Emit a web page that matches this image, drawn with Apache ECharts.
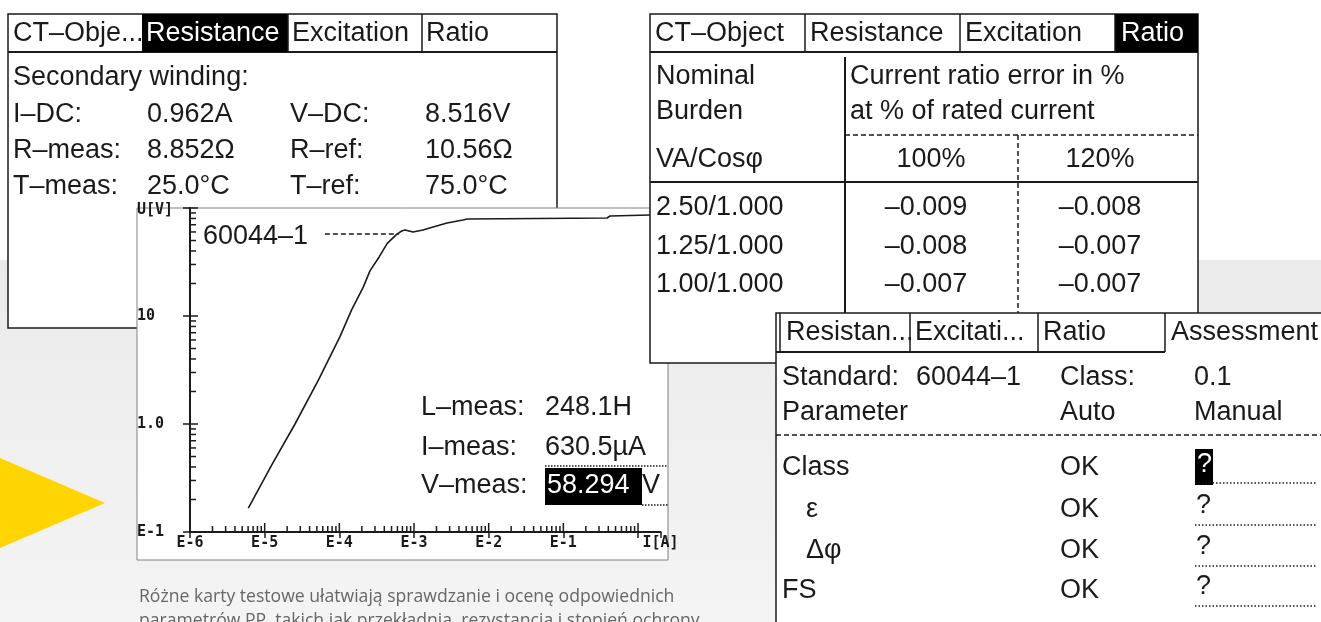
<!DOCTYPE html>
<html>
<head>
<meta charset="utf-8">
<title>CT Analyzer - excitation curve</title>
<script src="https://cdn.jsdelivr.net/npm/echarts@6/dist/echarts.min.js"></script>
<style>
html, body { margin: 0; padding: 0; background: #fff; }
#main { width: 1321px; height: 622px; }
</style>
</head>
<body>
<div id="main"></div>
<script>
// excitation curve: current in A, voltage in V
var curveCurrent = [6.04e-6, 1.24e-5, 2.55e-5, 5.24e-5, 1.02e-4, 1.46e-4, 2.09e-4, 2.58e-4, 3.43e-4, 4.38e-4,
                    5.86e-4, 6.84e-4, 7.57e-4, 9.7e-4, 1.32e-3, 1.80e-3, 2.77e-3, 4.53e-3, 5.13e-3, 0.385, 0.422, 1.45];
var curveVoltage = [0.166, 0.417, 1.0, 2.55, 6.44, 11.4, 18.5, 26.3, 35.4, 47.1,
                    57.0, 61.2, 62.5, 60.0, 62.5, 66.6, 72.6, 77.4, 79.1, 80.8, 84.3, 86.1];

// measured knee point (readout) and where the standard label ends
var iMeas = 630.5e-6;
var vMeas = 58.294;
var kneeLabelEnd = 6.4e-5;

// axis decades and minor steps
var xDecades = [1e-6, 1e-5, 1e-4, 1e-3, 1e-2, 1e-1, 1];
var yDecades = [0.1, 1, 10, 100];
var minorSteps = [2, 3, 4, 5, 6, 7, 8, 9];

// resistance tab
var resRows = [
    ['I–DC:', '0.962A', 'V–DC:', '8.516V'],
    ['R–meas:', '8.852Ω', 'R–ref:', '10.56Ω'],
    ['T–meas:', '25.0°C', 'T–ref:', '75.0°C']
];

// ratio tab
var burdens = ['2.50/1.000', '1.25/1.000', '1.00/1.000'];
var err100 = [-0.009, -0.008, -0.007];
var err120 = [-0.008, -0.007, -0.007];

// assessment tab
var assessParams = ['Class', 'ε', 'Δφ', 'FS'];
var assessAuto = ['OK', 'OK', 'OK', 'OK'];

var INK = '#1a1a1a';
var FONT = '"Liberation Sans", Arial, sans-serif';
var MONO = '"DejaVu Sans Mono", monospace';

var g = [];
function box(x, y, w, h, z, fill, stroke, lw) {
    g.push({ type: 'rect', z: z, silent: true, shape: { x: x, y: y, width: w, height: h },
        style: { fill: fill || '#fff', stroke: stroke || null, lineWidth: lw || 0 } });
}
function seg(x1, y1, x2, y2, z, dash, lw, color) {
    g.push({ type: 'line', z: z, silent: true, shape: { x1: x1, y1: y1, x2: x2, y2: y2 },
        style: { stroke: color || INK, lineWidth: lw || 1.5, lineDash: dash || null } });
}
function txt(x, y, s, z, opt) {
    opt = opt || {};
    g.push({ type: 'text', z: z, z2: 5, silent: true, x: x, y: y,
        style: { text: s, fill: opt.fill || INK, font: (opt.size || 27) + 'px ' + (opt.family || FONT),
                 align: opt.align || 'left', verticalAlign: 'middle' } });
}
function fmtErr(v) { return v.toFixed(3).replace('-', '–'); }

// background
box(0, 0, 1321, 622, -10, '#ffffff');
g.push({ type: 'rect', z: -9, silent: true, shape: { x: 0, y: 260, width: 1321, height: 362 },
    style: { fill: new echarts.graphic.LinearGradient(0, 0, 0, 1, [
        { offset: 0, color: '#ebebeb' }, { offset: 1, color: '#f4f4f4' }]) } });
// yellow arrow
g.push({ type: 'polygon', z: -8, silent: true, shape: { points: [[0, 458], [105, 503], [0, 548]] },
    style: { fill: '#FFD500' } });

// caption
txt(139, 597, 'Różne karty testowe ułatwiają sprawdzanie i ocenę odpowiednich', -5,
    { size: 17.6, fill: '#666', family: '"Open Sans", sans-serif' });
txt(139, 621, 'parametrów PP, takich jak przekładnia, rezystancja i stopień ochrony', -5,
    { size: 17.6, fill: '#666', family: '"Open Sans", sans-serif' });

// ---- panel 1: resistance
box(8, 14, 549, 314, 0, '#fff', INK, 1.5);
seg(8, 52, 557, 52, 0, null, 2);
box(142, 14, 146, 38, 0, '#000');
[288, 422].forEach(function (x) { seg(x, 14, x, 52, 0); });
txt(13, 34, 'CT–Obje...', 0);
txt(146, 34, 'Resistance', 0, { fill: '#fff' });
txt(292, 34, 'Excitation', 0);
txt(426, 34, 'Ratio', 0);
txt(13, 78, 'Secondary winding:', 0);
resRows.forEach(function (r, i) {
    var y = 115 + i * 36;
    txt(13, y, r[0], 0); txt(147, y, r[1], 0); txt(290, y, r[2], 0); txt(425, y, r[3], 0);
});

// ---- panel 2: excitation chart
box(137, 208, 531, 352, 1, '#fff', '#808080', 1);
txt(203, 237, '60044–1', 6);
txt(421, 408, 'L–meas:', 6); txt(545, 408, '248.1H', 6);
txt(421, 448, 'I–meas:', 6); txt(545, 448, '630.5µA', 6);
seg(545, 466, 668, 466, 6, [1.5, 1.5], 1.5);
txt(421, 486, 'V–meas:', 6);
box(545, 468, 97, 37, 6, '#000');
txt(547, 486, '58.294', 6, { fill: '#fff' });
txt(642, 486, 'V', 6);
seg(642, 505, 668, 505, 6, [1.5, 1.5], 1.5);

// ---- panel 3: ratio
box(650, 14, 548, 349, 20, '#fff', INK, 1.5);
seg(650, 52, 1198, 52, 20, null, 2);
box(1115, 14, 83, 38, 20, '#000');
[805, 960, 1115].forEach(function (x) { seg(x, 14, x, 52, 20); });
txt(655, 34, 'CT–Object', 20);
txt(810, 34, 'Resistance', 20);
txt(965, 34, 'Excitation', 20);
txt(1121, 34, 'Ratio', 20, { fill: '#fff' });
seg(845, 57, 845, 363, 20, null, 2);
seg(845, 135, 1198, 135, 20, [5, 3], 1.5);
seg(1018, 135, 1018, 363, 20, [5, 3], 1.5);
seg(650, 182, 1198, 182, 20, null, 2);
txt(656, 77, 'Nominal', 20);
txt(656, 112, 'Burden', 20);
txt(656, 160, 'VA/Cosφ', 20);
txt(850, 77, 'Current ratio error in %', 20);
txt(850, 112, 'at % of rated current', 20);
txt(931, 160, '100%', 20, { align: 'center' });
txt(1100, 160, '120%', 20, { align: 'center' });
burdens.forEach(function (b, i) {
    var y = 208 + i * 38.5;
    txt(656, y, b, 20);
    txt(926, y, fmtErr(err100[i]), 20, { align: 'center' });
    txt(1100, y, fmtErr(err120[i]), 20, { align: 'center' });
});

// ---- panel 4: assessment
box(776, 313, 560, 330, 30, '#fff', INK, 1.5);
seg(780, 313, 780, 352, 30);
seg(776, 352, 1165, 352, 30, null, 2);
[910, 1038, 1165].forEach(function (x) { seg(x, 313, x, 352, 30); });
txt(786, 333, 'Resistan...', 30);
txt(915, 333, 'Excitati...', 30);
txt(1043, 333, 'Ratio', 30);
txt(1171, 333, 'Assessment', 30);
txt(782, 378, 'Standard:', 30); txt(916, 378, '60044–1', 30);
txt(1060, 378, 'Class:', 30); txt(1194, 378, '0.1', 30);
txt(782, 413, 'Parameter', 30); txt(1060, 413, 'Auto', 30); txt(1194, 413, 'Manual', 30);
seg(776, 435, 1321, 435, 30, [5, 3], 1.5);
var assessY = [468, 510, 551, 591];
assessParams.forEach(function (p, i) {
    var y = assessY[i];
    txt(p.length < 3 && p !== 'FS' ? 806 : 782, y, p, 30);
    txt(1060, y, assessAuto[i], 30);
    if (i === 0) {
        box(1195, y - 19, 18, 36, 30, '#000');
        txt(1197, y - 3, '?', 30, { fill: '#fff' });
    } else {
        txt(1196, y - 4, '?', 30);
    }
    seg(1195, y + 15, 1316, y + 15, 30, [1.5, 2], 1.5);
});

// minor/major tick marks drawn through the axis scales
var tickData = [];
xDecades.forEach(function (d) {
    tickData.push([d, 0.1, 0, 9]);
    minorSteps.forEach(function (s) { if (d * s < 2) tickData.push([d * s, 0.1, 0, 6]); });
});
yDecades.forEach(function (d) {
    tickData.push([1e-6, d, 1, 8]);
    if (d < 100) minorSteps.forEach(function (s) { tickData.push([1e-6, d * s, 1, 6]); });
});

function xLabel(v) {
    if (v > 1.5) return 'I[A]';
    var e = Math.round(Math.log10(v));
    return e < 0 ? 'E' + e : '';
}
function yLabel(v) {
    var e = Math.round(Math.log10(v));
    if (e === -1) return 'E-1';
    if (e === 0) return '1.0';
    if (e === 1) return '10';
    return '{t|U[V]}';
}

var axisFont = { color: INK, fontFamily: MONO, fontWeight: 'bold', fontSize: 15 };
var chart = echarts.init(document.getElementById('main'));
chart.setOption({
    animation: false,
    backgroundColor: 'transparent',
    graphic: { elements: g },
    grid: { left: 190, top: 208, right: 660.5, bottom: 90 },
    xAxis: {
        type: 'log', logBase: 10, min: 1e-6, max: 2, splitNumber: 6, z: 5,
        axisLine: { lineStyle: { color: INK, width: 2 } },
        axisTick: { inside: false, length: 6, lineStyle: { color: INK, width: 1.5 } },
        axisLabel: Object.assign({ formatter: xLabel, margin: 4, showMaxLabel: true, showMinLabel: true }, axisFont),
        splitLine: { show: false }
    },
    yAxis: {
        type: 'log', logBase: 10, min: 0.1, max: 100, splitNumber: 5, z: 5,
        axisLine: { lineStyle: { color: INK, width: 2 } },
        axisTick: { inside: false, length: 7, lineStyle: { color: INK, width: 1.5 } },
        axisLabel: Object.assign({ formatter: yLabel, margin: 53, align: 'left', showMaxLabel: true,
            rich: { t: { padding: [4, 0, 0, 0], color: INK, fontFamily: MONO, fontWeight: 'bold', fontSize: 15 } } }, axisFont),
        splitLine: { show: false }
    },
    series: [
        {
            name: 'U(I)', type: 'line', z: 5, symbol: 'none', silent: true,
            data: curveCurrent.map(function (c, i) { return [c, curveVoltage[i]]; }),
            lineStyle: { color: INK, width: 1.6 },
            markLine: {
                silent: true, symbol: 'none', label: { show: false },
                lineStyle: { color: INK, width: 1.5, type: [5, 3] },
                data: [
                    { xAxis: iMeas },
                    [{ coord: [kneeLabelEnd, vMeas] }, { coord: [iMeas, vMeas] }]
                ]
            }
        },
        {
            name: 'ticks', type: 'custom', z: 5, silent: true, clip: false,
            data: tickData,
            encode: { x: 0, y: 1 },
            renderItem: function (params, api) {
                var p = api.coord([api.value(0), api.value(1)]);
                var len = api.value(3);
                var shape = api.value(2) === 0
                    ? { x1: p[0], y1: p[1], x2: p[0], y2: p[1] - len }
                    : { x1: p[0], y1: p[1], x2: p[0] + len, y2: p[1] };
                return { type: 'line', shape: shape, style: { stroke: INK, lineWidth: 1.5 } };
            }
        }
    ]
});
</script>
</body>
</html>
